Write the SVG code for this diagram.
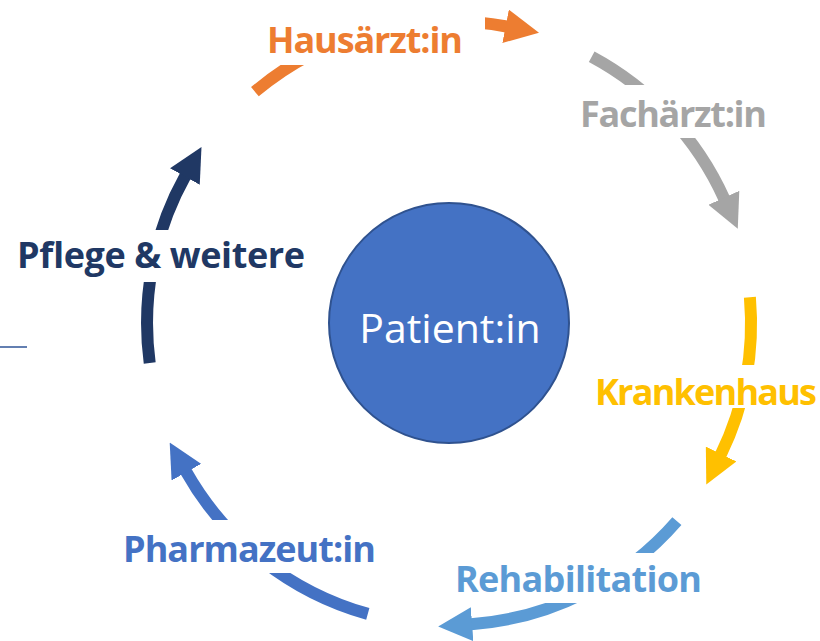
<svg xmlns="http://www.w3.org/2000/svg" width="820" height="641" viewBox="0 0 820 641">
<style>
.arc{fill:none;stroke-width:12;stroke-linecap:butt}
.lbl{font-family:"Open Sans","Noto Sans","Liberation Sans",sans-serif;font-weight:bold;font-size:36px}
.gap{fill:#ffffff}
</style>
<defs>
<marker id="mOr" viewBox="0 0 34 34" markerUnits="userSpaceOnUse" markerWidth="34" markerHeight="34" refX="1" refY="17" orient="auto"><path d="M0,0 L34,17 L0,34 z" fill="#ED7D31"/></marker>
<marker id="mGr" viewBox="0 0 34 34" markerUnits="userSpaceOnUse" markerWidth="34" markerHeight="34" refX="1" refY="17" orient="auto"><path d="M0,0 L34,17 L0,34 z" fill="#A5A5A5"/></marker>
<marker id="mYe" viewBox="0 0 34 34" markerUnits="userSpaceOnUse" markerWidth="34" markerHeight="34" refX="1" refY="17" orient="auto"><path d="M0,0 L34,17 L0,34 z" fill="#FFC000"/></marker>
<marker id="mLb" viewBox="0 0 34 34" markerUnits="userSpaceOnUse" markerWidth="34" markerHeight="34" refX="1" refY="17" orient="auto"><path d="M0,0 L34,17 L0,34 z" fill="#5B9BD5"/></marker>
<marker id="mBl" viewBox="0 0 34 34" markerUnits="userSpaceOnUse" markerWidth="34" markerHeight="34" refX="1" refY="17" orient="auto"><path d="M0,0 L34,17 L0,34 z" fill="#4472C4"/></marker>
<marker id="mNv" viewBox="0 0 34 34" markerUnits="userSpaceOnUse" markerWidth="34" markerHeight="34" refX="1" refY="17" orient="auto"><path d="M0,0 L34,17 L0,34 z" fill="#203864"/></marker>
</defs>
<rect width="820" height="641" fill="#ffffff"/>
<g id="connectors">
<path class="arc" stroke="#ED7D31" marker-end="url(#mOr)" d="M254.9,91.7 A302,302 0 0 1 506.6,26.5"/>
<path class="arc" stroke="#A5A5A5" marker-end="url(#mGr)" d="M591.7,56.8 A302,302 0 0 1 724.2,198.7"/>
<path class="arc" stroke="#FFC000" marker-end="url(#mYe)" d="M749.9,297.2 A302,302 0 0 1 720.7,454.9"/>
<path class="arc" stroke="#5B9BD5" marker-end="url(#mLb)" d="M676.9,521.1 A302,302 0 0 1 471.1,624.2"/>
<path class="arc" stroke="#4472C4" marker-end="url(#mBl)" d="M367.8,613.9 A302,302 0 0 1 185.9,471.3"/>
<path class="arc" stroke="#203864" marker-end="url(#mNv)" d="M149.7,363.0 A302,302 0 0 1 185.4,175.7"/>
<line x1="0" y1="347" x2="27" y2="347" stroke="#2F5597" stroke-width="1.5"/>
</g>
<g id="patient">
<circle cx="449" cy="323" r="120" fill="#4472C4" stroke="#2F528F" stroke-width="2"/>
<text x="450" y="343" text-anchor="middle" font-family="'Open Sans','Noto Sans','Liberation Sans',sans-serif" font-size="41" fill="#ffffff">Patient:in</text>
</g>
<g id="hausarzt">
<rect class="gap" x="258" y="8" width="227" height="57"/>
<text class="lbl" x="267" y="53" textLength="196" fill="#ED7D31">Hausärzt:in</text>
</g>
<g id="facharzt">
<rect class="gap" x="572" y="85" width="205" height="53"/>
<text class="lbl" x="580" y="127" textLength="187" fill="#A5A5A5">Fachärzt:in</text>
</g>
<g id="krankenhaus">
<rect class="gap" x="588" y="365" width="232" height="43"/>
<text class="lbl" x="595" y="405" textLength="222" fill="#FFC000">Krankenhaus</text>
</g>
<g id="rehabilitation">
<rect class="gap" x="450" y="553" width="258" height="50"/>
<text class="lbl" x="455" y="592" textLength="247" fill="#5B9BD5">Rehabilitation</text>
</g>
<g id="pharmazeut">
<rect class="gap" x="118" y="520" width="262" height="53"/>
<text class="lbl" x="123" y="562" textLength="253" fill="#4472C4">Pharmazeut:in</text>
</g>
<g id="pflege">
<rect class="gap" x="12" y="230" width="298" height="52"/>
<text class="lbl" x="17" y="268" textLength="288" fill="#203864">Pflege &amp; weitere</text>
</g>
</svg>
